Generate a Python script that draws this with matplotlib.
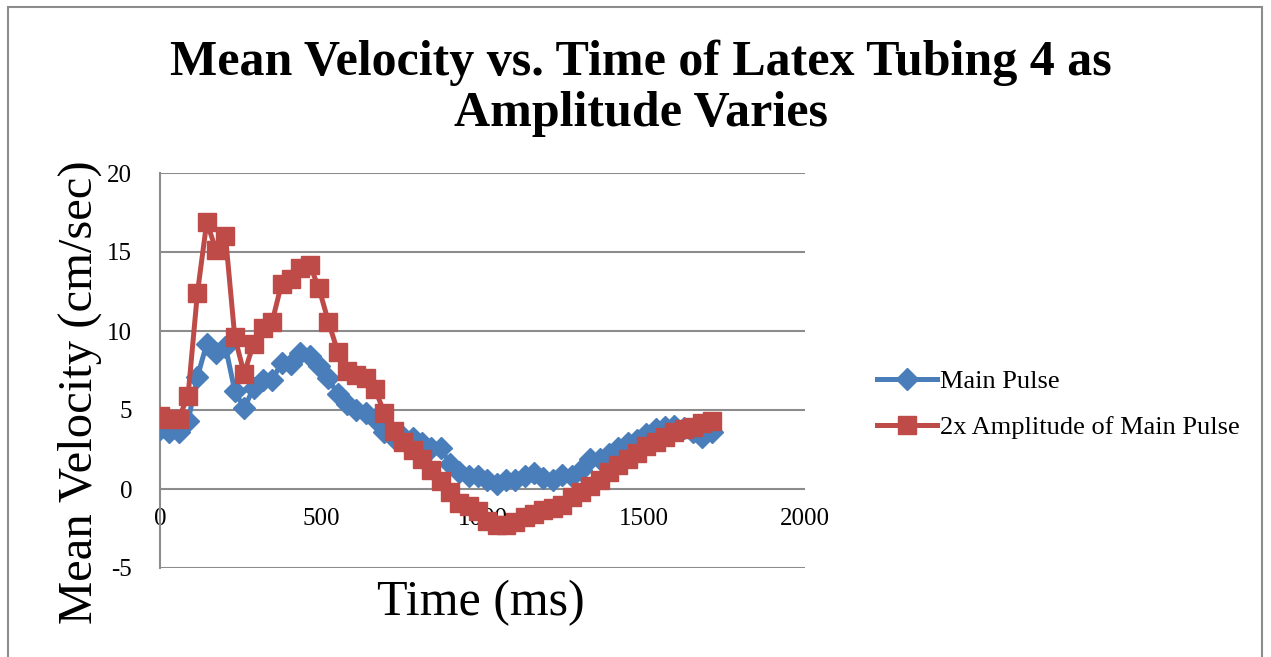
import matplotlib.pyplot as plt
from matplotlib.patches import Rectangle
from matplotlib.lines import Line2D

# time (ms)
time_ms = [0, 29, 58, 87, 116, 145, 174, 203, 232, 261, 290, 319, 348, 377, 406,
           435, 464, 493, 522, 551, 580, 609, 638, 667, 696, 725, 754, 783, 812, 841,
           870, 899, 928, 957, 986, 1015, 1044, 1073, 1102, 1131, 1160, 1189, 1218,
           1247, 1276, 1305, 1334, 1363, 1392, 1421, 1450, 1479, 1508, 1537, 1566,
           1595, 1624, 1653, 1682, 1711]

main_pulse = [3.8, 3.6, 3.6, 4.3, 7.1, 9.2, 8.6, 9.0, 6.2, 5.1, 6.4, 6.9, 6.9, 8.0, 7.9,
              8.6, 8.4, 7.8, 7.0, 6.0, 5.4, 5.0, 4.8, 4.4, 3.6, 3.2, 3.3, 3.2, 2.9, 2.6,
              2.6, 1.6, 1.1, 0.8, 0.8, 0.6, 0.3, 0.6, 0.6, 0.8, 1.0, 0.7, 0.6, 0.9, 0.8,
              1.2, 1.9, 1.9, 2.2, 2.6, 2.9, 3.1, 3.5, 3.8, 3.95, 4.0, 3.85, 3.6, 3.3, 3.6]

double_amp = [4.6, 4.4, 4.45, 5.9, 12.4, 16.9, 15.1, 16.0, 9.6, 7.3, 9.2, 10.2, 10.6, 13.0,
              13.3, 14.0, 14.2, 12.7, 10.6, 8.7, 7.5, 7.2, 7.0, 6.3, 4.8, 3.7, 3.0, 2.5, 1.9,
              1.2, 0.5, -0.2, -0.9, -1.1, -1.4, -2.0, -2.3, -2.3, -2.1, -1.8, -1.6, -1.3,
              -1.2, -1.0, -0.5, -0.2, 0.2, 0.6, 1.1, 1.5, 1.9, 2.3, 2.7, 3.0, 3.3, 3.6, 3.8,
              3.9, 4.2, 4.3]

x_ticks = [0, 500, 1000, 1500, 2000]
y_ticks = [-5, 0, 5, 10, 15, 20]

blue = "#4A7EBB"
red = "#BE4B48"
grid_col = "#8c8c8c"

plt.rcParams['font.family'] = ['Liberation Serif', 'DejaVu Serif']
plt.rcParams['axes.unicode_minus'] = False

fig = plt.figure(figsize=(12.71, 6.57), dpi=100)
ax = fig.add_axes([160 / 1271, 1 - 568 / 657, 645 / 1271, 395 / 657])

ax.plot(time_ms, main_pulse, color=blue, lw=3.6, marker='D', ms=11,
        label="Main Pulse", zorder=3)
ax.plot(time_ms, double_amp, color=red, lw=3.6, marker='s', ms=13,
        label="2x Amplitude of Main Pulse", zorder=4)

ax.set_xlim(0, 2000)
ax.set_ylim(-5, 20)
ax.set_yticks(y_ticks)
ax.set_xticks(x_ticks)
for y in y_ticks:
    ax.axhline(y, color=grid_col, lw=1.5, zorder=1)

for s in ['top', 'right', 'bottom']:
    ax.spines[s].set_visible(False)
ax.spines['left'].set_color(grid_col)
ax.spines['left'].set_linewidth(1.5)

# x tick labels sit under the zero line
ax.tick_params(axis='x', length=0, labelbottom=False)
for xv in x_ticks:
    ax.annotate(str(xv), (xv, 0), xytext=(0, -14), textcoords='offset points',
                ha='center', va='top', fontsize=18, zorder=2)
ax.tick_params(axis='y', length=0, labelsize=18, pad=20)

fig.text(481 / 1271, 1 - 603 / 657, "Time (ms)", fontsize=36,
         ha='center', va='center')
fig.text(80 / 1271, 1 - 392 / 657, "Mean Velocity (cm/sec)", fontsize=35,
         rotation=90, ha='center', va='center')

fig.text(0.504, 1 - 88 / 657, "Mean Velocity vs. Time of Latex Tubing 4 as\nAmplitude Varies",
         fontsize=36, fontweight='bold', ha='center', va='center', linespacing=1.15)

handles = [Line2D([], [], color=blue, lw=3.6, marker='D', ms=11),
           Line2D([], [], color=red, lw=3.6, marker='s', ms=13)]
fig.legend(handles, ["Main Pulse", "2x Amplitude of Main Pulse"], loc='center left',
           bbox_to_anchor=(0.671, 0.385), frameon=False, fontsize=19,
           handlelength=2.3, labelspacing=0.85, handletextpad=0.1)

fig.patches.append(Rectangle((8 / 1271, -0.05), 1254 / 1271, 1 - 7 / 657 + 0.05,
                             transform=fig.transFigure, fill=False,
                             edgecolor="#8c8c8c", lw=1.5))

fig.savefig("out.png", dpi=100)
